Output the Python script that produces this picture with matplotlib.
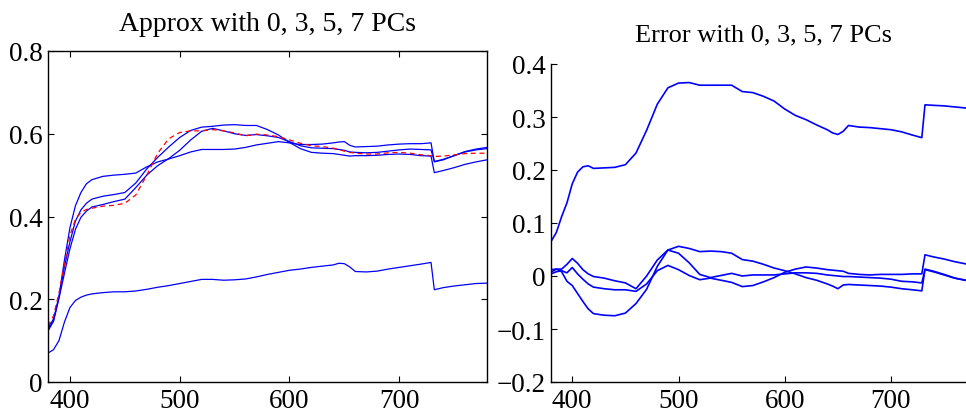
import matplotlib
matplotlib.use("Agg")
import matplotlib.pyplot as plt

plt.rcParams['font.family'] = ['Liberation Serif', 'DejaVu Serif']

wavelength = [380, 385, 390, 395, 400, 405, 410, 415, 420, 430, 440, 450, 460, 470, 480, 490,
              500, 510, 520, 530, 540, 550, 560, 570, 580, 590, 600, 610, 620, 630, 640, 645,
              650, 655, 660, 670, 680, 690, 700, 710, 720, 729, 732, 740, 750, 760, 770, 780]

true_spectrum = [0.135, 0.16, 0.215, 0.285, 0.355, 0.393, 0.41, 0.417, 0.42, 0.425, 0.427, 0.432,
                 0.452, 0.50, 0.553, 0.588, 0.603, 0.607, 0.607, 0.61, 0.607, 0.602, 0.595, 0.599,
                 0.597, 0.593, 0.585, 0.577, 0.571, 0.569, 0.565, 0.562, 0.558, 0.555, 0.553,
                 0.551, 0.551, 0.554, 0.555, 0.553, 0.549, 0.547, 0.545, 0.546, 0.549, 0.552,
                 0.553, 0.553]

approx_0pc = [0.07, 0.078, 0.10, 0.145, 0.18, 0.197, 0.205, 0.21, 0.213, 0.216, 0.218, 0.218,
              0.22, 0.224, 0.229, 0.233, 0.238, 0.243, 0.248, 0.248, 0.246, 0.247, 0.249, 0.254,
              0.26, 0.265, 0.27, 0.273, 0.277, 0.28, 0.283, 0.287, 0.286, 0.278, 0.267, 0.266,
              0.268, 0.273, 0.277, 0.281, 0.285, 0.289, 0.223, 0.228, 0.232, 0.235, 0.238, 0.239]

approx_3pc = [0.128, 0.147, 0.207, 0.295, 0.373, 0.426, 0.458, 0.479, 0.489, 0.497, 0.500,
              0.502, 0.505, 0.520, 0.532, 0.539, 0.547, 0.556, 0.562, 0.562, 0.562, 0.563,
              0.567, 0.573, 0.577, 0.581, 0.578, 0.574, 0.574, 0.575, 0.578, 0.580, 0.581,
              0.572, 0.568, 0.569, 0.570, 0.573, 0.575, 0.576, 0.576, 0.578, 0.532, 0.537,
              0.547, 0.557, 0.563, 0.567]

approx_5pc = [0.123, 0.147, 0.202, 0.263, 0.322, 0.369, 0.398, 0.413, 0.423, 0.429, 0.436,
              0.442, 0.470, 0.500, 0.523, 0.540, 0.560, 0.585, 0.606, 0.613, 0.607, 0.600,
              0.596, 0.598, 0.595, 0.591, 0.581, 0.571, 0.566, 0.565, 0.564, 0.562, 0.560,
              0.556, 0.555, 0.554, 0.555, 0.558, 0.561, 0.563, 0.562, 0.561, 0.533, 0.538,
              0.547, 0.556, 0.561, 0.564]

approx_7pc = [0.131, 0.152, 0.205, 0.279, 0.339, 0.389, 0.416, 0.432, 0.442, 0.449, 0.453,
              0.458, 0.481, 0.515, 0.543, 0.568, 0.591, 0.608, 0.616, 0.618, 0.621, 0.622,
              0.620, 0.620, 0.610, 0.597, 0.579, 0.564, 0.555, 0.553, 0.552, 0.550, 0.548,
              0.546, 0.547, 0.547, 0.548, 0.550, 0.551, 0.550, 0.547, 0.546, 0.506, 0.511,
              0.518, 0.526, 0.532, 0.537]

error_0pc = [0.065, 0.082, 0.112, 0.138, 0.174, 0.196, 0.206, 0.208, 0.203, 0.204, 0.205, 0.21,
             0.232, 0.275, 0.324, 0.355, 0.364, 0.365, 0.36, 0.36, 0.36, 0.36, 0.348, 0.346,
             0.339, 0.33, 0.315, 0.303, 0.295, 0.285, 0.276, 0.27, 0.267, 0.273, 0.284, 0.281,
             0.28, 0.278, 0.276, 0.272, 0.266, 0.261, 0.323, 0.322, 0.321, 0.319, 0.317, 0.317]

error_3pc = [0.007, 0.013, 0.008, -0.01, -0.018, -0.033, -0.048, -0.062, -0.071, -0.074,
             -0.075, -0.07, -0.052, -0.025, 0.018, 0.049, 0.056, 0.052, 0.046, 0.047, 0.046,
             0.043, 0.031, 0.028, 0.022, 0.015, 0.010, 0.004, -0.003, -0.008, -0.015, -0.019,
             -0.024, -0.017, -0.016, -0.017, -0.018, -0.019, -0.021, -0.024, -0.026, -0.028,
             0.013, 0.009, 0.003, -0.004, -0.008, -0.011]

error_5pc = [0.012, 0.013, 0.013, 0.022, 0.033, 0.024, 0.012, 0.004, -0.001, -0.004, -0.009,
             -0.013, -0.024, 0.0, 0.03, 0.049, 0.043, 0.025, 0.003, -0.003, 0.001, 0.005, 0.0,
             0.002, 0.002, 0.002, 0.004, 0.006, 0.006, 0.005, 0.002, 0.001, 0.0, -0.001, -0.001,
             -0.002, -0.003, -0.004, -0.006, -0.01, -0.011, -0.013, 0.012, 0.008, 0.002,
             -0.004, -0.008, -0.01]

error_7pc = [0.004, 0.008, 0.01, 0.006, 0.016, 0.004, -0.006, -0.015, -0.021, -0.024, -0.026,
             -0.026, -0.029, -0.015, 0.01, 0.02, 0.012, 0.001, -0.007, -0.004, -0.008, -0.012,
             -0.02, -0.018, -0.011, -0.003, 0.007, 0.013, 0.017, 0.015, 0.012, 0.011, 0.01,
             0.009, 0.005, 0.003, 0.002, 0.003, 0.003, 0.003, 0.004, 0.004, 0.04, 0.036, 0.032,
             0.027, 0.023, 0.02]

left_title = "Approx with 0, 3, 5, 7 PCs"
right_title = "Error with 0, 3, 5, 7 PCs"
x_ticks = [400, 500, 600, 700]
x_ticklabels = ["400", "500", "600", "700"]
left_yticks = [0, 0.2, 0.4, 0.6, 0.8]
left_yticklabels = ["0", "0.2", "0.4", "0.6", "0.8"]
right_yticks = [-0.2, -0.1, 0, 0.1, 0.2, 0.3, 0.4]
right_yticklabels = ["\u22120.2", "\u22120.1", "0", "0.1", "0.2", "0.3", "0.4"]

fig = plt.figure(figsize=(9.66, 4.14), dpi=100)
ax1 = fig.add_axes([48 / 966, 31 / 414, 439 / 966, 331 / 414])
ax2 = fig.add_axes([551 / 966, 31 / 414, 425 / 966, 318 / 414])

blue = (0, 0, 1)
red = (1, 0, 0)

for series in [approx_0pc, approx_3pc, approx_5pc, approx_7pc]:
    ax1.plot(wavelength, series, color=blue, lw=0.9)
ax1.plot(wavelength, true_spectrum, color=red, lw=0.9, ls=(0, (4, 3)))
ax1.set_xlim(380, 780)
ax1.set_ylim(0, 0.8)
ax1.set_xticks(x_ticks)
ax1.set_xticklabels(x_ticklabels)
ax1.set_yticks(left_yticks)
ax1.set_yticklabels(left_yticklabels)
ax1.tick_params(direction='in', top=True, right=True, length=4, width=0.8,
                labelsize=19.5, pad=4)
ax1.tick_params(axis='x', pad=4)
for s in ax1.spines.values():
    s.set_linewidth(1.0)
ax1.set_title(left_title, fontsize=20, pad=15)

for series in [error_0pc, error_3pc, error_5pc, error_7pc]:
    ax2.plot(wavelength, series, color=blue, lw=1.2)
ax2.set_xlim(380, 780)
ax2.set_ylim(-0.2, 0.4)
ax2.set_xticks(x_ticks)
ax2.set_xticklabels(x_ticklabels)
ax2.set_yticks(right_yticks)
ax2.set_yticklabels(right_yticklabels)
ax2.spines['top'].set_visible(False)
ax2.spines['right'].set_visible(False)
ax2.tick_params(direction='in', top=False, right=False, length=4, width=0.8,
                labelsize=19.5, pad=4)
ax2.tick_params(axis='x', pad=4)
for s in ax2.spines.values():
    s.set_linewidth(1.0)
ax2.set_title(right_title, fontsize=19, pad=17)

fig.savefig("out.png", dpi=100)
